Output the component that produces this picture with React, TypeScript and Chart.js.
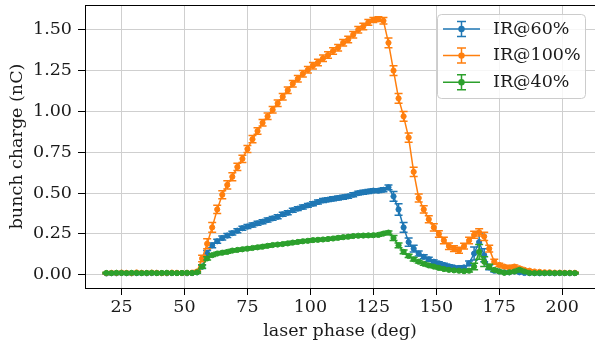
import React, { useEffect, useRef } from 'react';
import { Chart, registerables } from 'chart.js';

Chart.register(...registerables);

// laser phase (deg)
const phase = [
  19, 21, 23, 25, 27, 29, 31, 33, 35, 37, 39, 41, 43, 45, 47, 49, 51, 53,
  55, 57, 59, 61, 63, 65, 67, 69, 71, 73, 75, 77, 79, 81, 83, 85, 87, 89,
  91, 93, 95, 97, 99, 101, 103, 105, 107, 109, 111, 113, 115, 117, 119, 121,
  123, 125, 127, 129, 131, 133, 135, 137, 139, 141, 143, 145, 147, 149, 151, 153,
  155, 157, 159, 161, 163, 165, 167, 169, 171, 173, 175, 177, 179, 181, 183, 185,
  187, 189, 191, 193, 195, 197, 199, 201, 203, 205,
];

// IR@60% bunch charge (nC)
const ir60 = [
  0.008, 0.010, 0.009, 0.011, 0.010, 0.009, 0.010, 0.011, 0.009, 0.010, 0.011, 0.010, 0.009, 0.010, 0.011, 0.010, 0.009, 0.010,
  0.015, 0.05, 0.13, 0.18, 0.205, 0.225, 0.24, 0.255, 0.27, 0.285, 0.295, 0.305, 0.315, 0.325, 0.335, 0.345, 0.355, 0.37,
  0.38, 0.395, 0.405, 0.415, 0.425, 0.435, 0.445, 0.455, 0.46, 0.465, 0.47, 0.475, 0.48, 0.49, 0.50, 0.505,
  0.51, 0.515, 0.515, 0.52, 0.535, 0.48, 0.40, 0.29, 0.20, 0.16, 0.13, 0.11, 0.095, 0.08, 0.07, 0.06,
  0.052, 0.045, 0.042, 0.045, 0.07, 0.13, 0.20, 0.12, 0.045, 0.025, 0.02, 0.015, 0.015, 0.02, 0.015, 0.011,
  0.010, 0.010, 0.009, 0.010, 0.010, 0.009, 0.010, 0.010, 0.009, 0.010,
];
const ir60Err = [
  0.004, 0.004, 0.004, 0.004, 0.004, 0.004, 0.004, 0.004, 0.004, 0.004, 0.004, 0.004, 0.004, 0.004, 0.004, 0.004, 0.004, 0.004,
  0.005, 0.012, 0.018, 0.015, 0.012, 0.012, 0.012, 0.012, 0.012, 0.012, 0.012, 0.012, 0.012, 0.012, 0.012, 0.012, 0.012, 0.012,
  0.012, 0.012, 0.012, 0.012, 0.012, 0.012, 0.012, 0.012, 0.012, 0.012, 0.012, 0.012, 0.012, 0.012, 0.012, 0.012,
  0.012, 0.012, 0.012, 0.012, 0.015, 0.03, 0.035, 0.03, 0.025, 0.02, 0.015, 0.012, 0.012, 0.01, 0.01, 0.01,
  0.01, 0.008, 0.008, 0.01, 0.015, 0.04, 0.055, 0.04, 0.015, 0.008, 0.006, 0.005, 0.005, 0.006, 0.005, 0.004,
  0.004, 0.004, 0.004, 0.004, 0.004, 0.004, 0.004, 0.004, 0.004, 0.004,
];

// IR@100% bunch charge (nC)
const ir100 = [
  0.010, 0.012, 0.011, 0.013, 0.012, 0.010, 0.014, 0.012, 0.011, 0.013, 0.012, 0.010, 0.011, 0.013, 0.012, 0.011, 0.012, 0.013,
  0.02, 0.10, 0.19, 0.29, 0.40, 0.49, 0.55, 0.60, 0.66, 0.71, 0.77, 0.83, 0.88, 0.93, 0.97, 1.01, 1.05, 1.09,
  1.13, 1.17, 1.20, 1.23, 1.255, 1.28, 1.30, 1.325, 1.345, 1.37, 1.39, 1.42, 1.44, 1.47, 1.50, 1.52,
  1.545, 1.56, 1.565, 1.555, 1.42, 1.25, 1.08, 0.97, 0.84, 0.63, 0.47, 0.40, 0.34, 0.29, 0.25, 0.21,
  0.175, 0.16, 0.15, 0.175, 0.21, 0.245, 0.26, 0.235, 0.16, 0.08, 0.06, 0.05, 0.045, 0.05, 0.04, 0.03,
  0.025, 0.02, 0.018, 0.015, 0.015, 0.013, 0.013, 0.012, 0.012, 0.012,
];
const ir100Err = [
  0.004, 0.004, 0.004, 0.004, 0.004, 0.004, 0.004, 0.004, 0.004, 0.004, 0.004, 0.004, 0.004, 0.004, 0.004, 0.004, 0.004, 0.004,
  0.006, 0.02, 0.03, 0.03, 0.025, 0.025, 0.025, 0.025, 0.022, 0.022, 0.022, 0.022, 0.02, 0.02, 0.02, 0.02, 0.02, 0.02,
  0.02, 0.02, 0.02, 0.02, 0.02, 0.02, 0.02, 0.02, 0.02, 0.02, 0.02, 0.02, 0.02, 0.02, 0.02, 0.02,
  0.018, 0.015, 0.015, 0.02, 0.03, 0.03, 0.03, 0.03, 0.028, 0.028, 0.025, 0.022, 0.022, 0.022, 0.02, 0.02,
  0.02, 0.018, 0.018, 0.018, 0.02, 0.022, 0.022, 0.025, 0.02, 0.015, 0.01, 0.008, 0.008, 0.01, 0.008, 0.006,
  0.005, 0.005, 0.004, 0.004, 0.004, 0.004, 0.004, 0.004, 0.004, 0.004,
];

// IR@40% bunch charge (nC)
const ir40 = [
  0.011, 0.010, 0.012, 0.011, 0.010, 0.012, 0.011, 0.010, 0.011, 0.012, 0.010, 0.011, 0.012, 0.011, 0.010, 0.011, 0.012, 0.011,
  0.015, 0.05, 0.10, 0.12, 0.13, 0.135, 0.14, 0.148, 0.152, 0.156, 0.16, 0.164, 0.168, 0.172, 0.177, 0.182, 0.185, 0.188,
  0.192, 0.197, 0.201, 0.205, 0.208, 0.212, 0.214, 0.216, 0.219, 0.222, 0.226, 0.23, 0.233, 0.237, 0.239, 0.24,
  0.241, 0.242, 0.244, 0.252, 0.258, 0.225, 0.18, 0.14, 0.115, 0.095, 0.08, 0.067, 0.057, 0.05, 0.042, 0.035,
  0.03, 0.027, 0.025, 0.022, 0.025, 0.05, 0.14, 0.08, 0.05, 0.03, 0.02, 0.012, 0.015, 0.02, 0.03, 0.02,
  0.011, 0.010, 0.011, 0.010, 0.011, 0.010, 0.011, 0.010, 0.011, 0.010,
];
const ir40Err = [
  0.004, 0.004, 0.004, 0.004, 0.004, 0.004, 0.004, 0.004, 0.004, 0.004, 0.004, 0.004, 0.004, 0.004, 0.004, 0.004, 0.004, 0.004,
  0.005, 0.01, 0.01, 0.008, 0.008, 0.008, 0.008, 0.008, 0.008, 0.008, 0.008, 0.008, 0.008, 0.008, 0.008, 0.008, 0.008, 0.008,
  0.008, 0.008, 0.008, 0.008, 0.008, 0.008, 0.008, 0.008, 0.008, 0.008, 0.008, 0.008, 0.008, 0.008, 0.008, 0.008,
  0.008, 0.008, 0.008, 0.008, 0.01, 0.015, 0.015, 0.012, 0.01, 0.01, 0.008, 0.008, 0.007, 0.007, 0.006, 0.006,
  0.006, 0.005, 0.005, 0.005, 0.008, 0.02, 0.045, 0.03, 0.015, 0.008, 0.006, 0.005, 0.005, 0.006, 0.008, 0.006,
  0.004, 0.004, 0.004, 0.004, 0.004, 0.004, 0.004, 0.004, 0.004, 0.004,
];

const seriesLabels = ['IR@60%', 'IR@100%', 'IR@40%'];
const seriesColors = ['#1f77b4', '#ff7f0e', '#2ca02c'];
const xTicks = [25, 50, 75, 100, 125, 150, 175, 200];
const yTicks = [0, 0.25, 0.5, 0.75, 1.0, 1.25, 1.5];

const FONT_FAMILY = "'DejaVu Serif', serif";
const FONT_SIZE = 17.5;
const TEXT_COLOR = '#1a1a1a';

const errorBarPlugin = {
  id: 'errorBars',
  beforeDatasetDraw(chart: any, args: any) {
    const ds = chart.data.datasets[args.index];
    const errs: number[] = ds.errors;
    if (!errs) return;
    const yScale = chart.scales.y;
    const ctx = chart.ctx;
    ctx.save();
    ctx.strokeStyle = ds.borderColor;
    ctx.lineWidth = 1.5;
    args.meta.data.forEach((pt: any, i: number) => {
      const v = ds.data[i].y;
      const e = errs[i];
      const x = pt.x;
      const y1 = yScale.getPixelForValue(v - e);
      const y2 = yScale.getPixelForValue(v + e);
      ctx.beginPath();
      ctx.moveTo(x, y1);
      ctx.lineTo(x, y2);
      ctx.moveTo(x - 4, y1);
      ctx.lineTo(x + 4, y1);
      ctx.moveTo(x - 4, y2);
      ctx.lineTo(x + 4, y2);
      ctx.stroke();
    });
    ctx.restore();
  },
};

const frameTopPlugin = {
  id: 'frameTop',
  afterDatasetsDraw(chart: any) {
    const { ctx, chartArea } = chart;
    ctx.save();
    ctx.strokeStyle = '#000';
    ctx.lineWidth = 1;
    ctx.beginPath();
    ctx.moveTo(chartArea.left, Math.round(chartArea.top) + 0.5);
    ctx.lineTo(chartArea.right, Math.round(chartArea.top) + 0.5);
    ctx.stroke();
    ctx.restore();
  },
};

const legendPlugin = {
  id: 'mplLegend',
  afterDraw(chart: any) {
    const { ctx, chartArea } = chart;
    const bw = 148;
    const bh = 84;
    const bx = chartArea.right - 10 - bw;
    const by = chartArea.top + 9;
    ctx.save();
    ctx.beginPath();
    ctx.roundRect(bx + 0.5, by + 0.5, bw, bh, 4);
    ctx.fillStyle = 'rgba(255,255,255,0.8)';
    ctx.fill();
    ctx.strokeStyle = '#cccccc';
    ctx.lineWidth = 1;
    ctx.stroke();
    ctx.font = `${FONT_SIZE}px ${FONT_FAMILY}`;
    ctx.textBaseline = 'middle';
    ctx.textAlign = 'left';
    seriesLabels.forEach((label, i) => {
      const cy = by + 15 + i * 26.6;
      const x0 = bx + 6;
      const x1 = bx + 43;
      const cx = (x0 + x1) / 2;
      const color = seriesColors[i];
      ctx.strokeStyle = color;
      ctx.lineWidth = 1.5;
      ctx.beginPath();
      ctx.moveTo(x0, cy);
      ctx.lineTo(x1, cy);
      ctx.moveTo(cx, cy - 7.5);
      ctx.lineTo(cx, cy + 7.5);
      ctx.moveTo(cx - 4.5, cy - 7.5);
      ctx.lineTo(cx + 4.5, cy - 7.5);
      ctx.moveTo(cx - 4.5, cy + 7.5);
      ctx.lineTo(cx + 4.5, cy + 7.5);
      ctx.stroke();
      ctx.beginPath();
      ctx.arc(cx, cy, 3.2, 0, Math.PI * 2);
      ctx.fillStyle = color;
      ctx.fill();
      ctx.fillStyle = TEXT_COLOR;
      ctx.fillText(label, bx + 56, cy);
    });
    ctx.restore();
  },
};

function makeDataset(label: string, ys: number[], errs: number[], color: string, order: number) {
  return {
    label,
    data: phase.map((x, i) => ({ x, y: ys[i] })),
    errors: errs,
    borderColor: color,
    backgroundColor: color,
    borderWidth: 1.5,
    pointRadius: 2.6,
    pointBorderWidth: 1,
    pointBorderColor: color,
    pointBackgroundColor: color,
    tension: 0,
    order,
  };
}

export default function App() {
  const canvasRef = useRef<HTMLCanvasElement | null>(null);

  useEffect(() => {
    if (!canvasRef.current) return;
    const font = { family: FONT_FAMILY, size: FONT_SIZE };
    const chart = new Chart(canvasRef.current, {
      type: 'line',
      data: {
        datasets: [
          makeDataset(seriesLabels[0], ir60, ir60Err, seriesColors[0], 3),
          makeDataset(seriesLabels[1], ir100, ir100Err, seriesColors[1], 2),
          makeDataset(seriesLabels[2], ir40, ir40Err, seriesColors[2], 1),
        ] as any,
      },
      options: {
        responsive: false,
        animation: false,
        devicePixelRatio: 1,
        layout: { padding: { top: 3, right: 2, left: 0, bottom: 0 } },
        plugins: { legend: { display: false }, tooltip: { enabled: false } },
        scales: {
          x: {
            type: 'linear',
            min: 10.5,
            max: 213.0,
            afterBuildTicks: (s: any) => {
              s.ticks = xTicks.map((v) => ({ value: v }));
            },
            afterFit: (s: any) => {
              s.height = 59;
              s.paddingLeft = 0;
              s.paddingRight = 0;
            },
            grid: { color: '#cfcfcf', lineWidth: 1, tickColor: '#000', tickLength: 7, drawTicks: true },
            border: { color: '#000', width: 1 },
            ticks: {
              font,
              color: TEXT_COLOR,
              padding: 2,
              maxRotation: 0,
              autoSkip: false,
              callback: (v: any) => String(v),
            },
            title: {
              display: true,
              text: 'laser phase (deg)',
              font,
              color: TEXT_COLOR,
              padding: { top: 0, bottom: 5.5 },
            },
          },
          y: {
            type: 'linear',
            min: -0.081,
            max: 1.6515,
            afterBuildTicks: (s: any) => {
              s.ticks = yTicks.map((v) => ({ value: v }));
            },
            afterFit: (s: any) => {
              s.width = 85;
              s.paddingTop = 0;
              s.paddingBottom = 0;
            },
            grid: { color: '#cfcfcf', lineWidth: 1, tickColor: '#000', tickLength: 7, drawTicks: true },
            border: { color: '#000', width: 1 },
            ticks: {
              font,
              color: TEXT_COLOR,
              padding: 6,
              autoSkip: false,
              callback: (v: any) => Number(v).toFixed(2),
            },
            title: {
              display: true,
              text: 'bunch charge (nC)',
              font,
              color: TEXT_COLOR,
              padding: { top: 6.5, bottom: 0 },
            },
          },
        },
      } as any,
      plugins: [errorBarPlugin, frameTopPlugin, legendPlugin],
    });
    return () => chart.destroy();
  }, []);

  return (
    <div style={{ position: 'fixed', left: 0, top: 0, width: 595, height: 347, overflow: 'hidden', background: '#fff' }}>
      <canvas ref={canvasRef} width={600} height={347} style={{ display: 'block', width: 600, height: 347 }} />
    </div>
  );
}
